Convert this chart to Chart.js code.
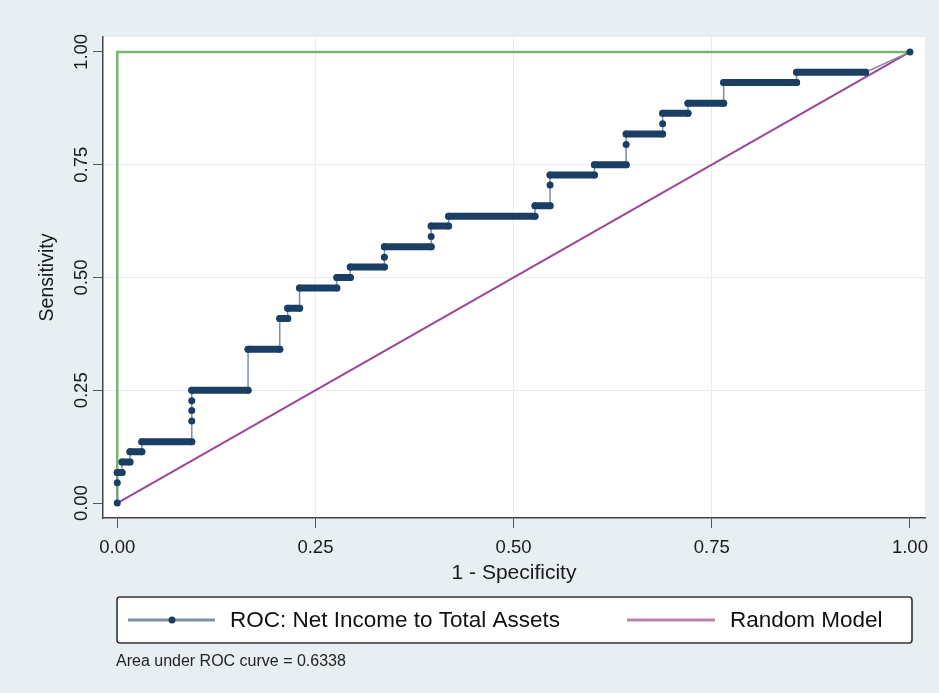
<!DOCTYPE html>
<html>
<head>
<meta charset="utf-8">
<title>ROC curve</title>
<script src="https://cdn.jsdelivr.net/npm/chart.js@4.4.1/dist/chart.umd.min.js"></script>
<style>
    html, body { margin: 0; padding: 0; background: #e8eff2; }
    #wrap { width: 939px; height: 693px; }
</style>
</head>
<body>
<div id="wrap"><canvas id="rocChart"></canvas></div>
<script>

// ROC points: 1 - specificity / sensitivity
var rocFpr = [0, 0, 0, 0.006, 0.006, 0.016, 0.016, 0.031, 0.031, 0.094, 0.094, 0.094, 0.094, 0.094,
    0.165, 0.165, 0.205, 0.205, 0.215, 0.215, 0.230, 0.230, 0.277, 0.277, 0.294, 0.294, 0.337, 0.337,
    0.337, 0.396, 0.396, 0.396, 0.418, 0.418, 0.527, 0.527, 0.546, 0.546, 0.546, 0.602, 0.602, 0.642,
    0.642, 0.642, 0.688, 0.688, 0.688, 0.720, 0.720, 0.765, 0.765, 0.857, 0.857, 0.944, 1];
var rocTpr = [0, 0.045, 0.068, 0.068, 0.091, 0.091, 0.114, 0.114, 0.136, 0.136, 0.182, 0.205, 0.227, 0.250,
    0.250, 0.341, 0.341, 0.409, 0.409, 0.432, 0.432, 0.477, 0.477, 0.500, 0.500, 0.523, 0.523, 0.545,
    0.568, 0.568, 0.591, 0.614, 0.614, 0.636, 0.636, 0.659, 0.659, 0.705, 0.727, 0.727, 0.750, 0.750,
    0.795, 0.818, 0.818, 0.841, 0.864, 0.864, 0.886, 0.886, 0.932, 0.932, 0.955, 0.955, 1];

var randomX = [0, 1];
var randomY = [0, 1];

var perfectX = [0, 0, 1];
var perfectY = [0, 1, 1];

var xTicks = [0, 0.25, 0.5, 0.75, 1];
var yTicks = [0, 0.25, 0.5, 0.75, 1];

var legendLabels = ['ROC: Net Income to Total Assets', 'Random Model'];
var aucNote = 'Area under ROC curve = 0.6338';

var navy = '#1b3f64';
var rocLine = '#7f8fa0';
var purple = '#9d4599';
var green = '#74b86b';

function toPoints(xs, ys) {
    var pts = [];
    for (var i = 0; i < xs.length; i++) {
        pts.push({ x: xs[i], y: ys[i] });
    }
    return pts;
}

function isFlat(ctx) {
    return ctx.p0.parsed.y === ctx.p1.parsed.y;
}

function endGrid(ctx) {
    var v = ctx.tick ? ctx.tick.value : null;
    return (v === 0 || v === 1) ? 'rgba(0,0,0,0)' : '#e9edf1';
}

var panelPlugin = {
    id: 'panel',
    beforeDraw: function (chart) {
        var ctx = chart.ctx;
        var a = chart.chartArea;
        ctx.save();
        ctx.fillStyle = '#e8eff2';
        ctx.fillRect(0, 0, chart.width, chart.height);
        ctx.fillStyle = '#ffffff';
        ctx.fillRect(a.left, a.top, a.right - a.left, a.bottom - a.top);
        ctx.restore();
    },
    afterDraw: function (chart) {
        var ctx = chart.ctx;
        ctx.save();

        // legend box
        ctx.beginPath();
        ctx.roundRect(117, 597, 795, 46, 3);
        ctx.fillStyle = '#ffffff';
        ctx.fill();
        ctx.lineWidth = 1.6;
        ctx.strokeStyle = '#333333';
        ctx.stroke();

        ctx.lineWidth = 3;
        ctx.strokeStyle = rocLine;
        ctx.beginPath();
        ctx.moveTo(128, 620);
        ctx.lineTo(215, 620);
        ctx.stroke();
        ctx.fillStyle = navy;
        ctx.beginPath();
        ctx.arc(172, 620, 3.5, 0, Math.PI * 2);
        ctx.fill();

        ctx.strokeStyle = '#b487b2';
        ctx.beginPath();
        ctx.moveTo(627, 620);
        ctx.lineTo(715, 620);
        ctx.stroke();

        ctx.fillStyle = '#111111';
        ctx.font = '22.5px "Liberation Sans", Arial, sans-serif';
        ctx.textBaseline = 'middle';
        ctx.fillText(legendLabels[0], 230, 621);
        ctx.fillText(legendLabels[1], 730, 621);

        ctx.font = '16px "Liberation Sans", Arial, sans-serif';
        ctx.fillStyle = '#222222';
        ctx.fillText(aucNote, 116, 662);
        ctx.restore();
    }
};

Chart.defaults.font.family = '"Liberation Sans", Arial, sans-serif';
Chart.defaults.color = '#1a1a1a';

var myChart = new Chart(document.getElementById('rocChart'), {
    type: 'scatter',
    data: {
        datasets: [
            {
                label: legendLabels[0],
                data: toPoints(rocFpr, rocTpr),
                showLine: true,
                borderColor: rocLine,
                borderWidth: 1.5,
                pointRadius: 3.5,
                pointBorderWidth: 0,
                pointBackgroundColor: navy,
                segment: {
                    borderWidth: function (ctx) { return isFlat(ctx) ? 7 : 1.5; },
                    borderColor: function (ctx) { return isFlat(ctx) ? navy : rocLine; },
                    borderCapStyle: function (ctx) { return isFlat(ctx) ? 'round' : 'butt'; }
                }
            },
            {
                label: legendLabels[1],
                data: toPoints(randomX, randomY),
                showLine: true,
                borderColor: purple,
                borderWidth: 2,
                pointRadius: 0
            },
            {
                label: 'Reference',
                data: toPoints(perfectX, perfectY),
                showLine: true,
                borderColor: green,
                borderWidth: 2.5,
                pointRadius: 0
            }
        ]
    },
    options: {
        responsive: true,
        maintainAspectRatio: false,
        animation: false,
        layout: { padding: { top: 37, right: 14, left: 0, bottom: 0 } },
        plugins: {
            legend: { display: false },
            tooltip: { enabled: false }
        },
        scales: {
            x: {
                type: 'linear',
                min: -0.018,
                max: 1.019,
                afterBuildTicks: function (scale) {
                    scale.ticks = xTicks.map(function (v) { return { value: v }; });
                },
                afterFit: function (scale) { scale.height = 175; },
                ticks: {
                    autoSkip: false,
                    maxRotation: 0,
                    padding: 9,
                    font: { size: 18.5 },
                    callback: function (v) { return v.toFixed(2); }
                },
                grid: { color: endGrid, tickColor: '#555555', tickLength: 10, lineWidth: 1 },
                border: { color: '#444444', width: 1.5 },
                title: {
                    display: true,
                    text: '1 - Specificity',
                    font: { size: 21 },
                    padding: { top: 0, bottom: 107 }
                }
            },
            y: {
                type: 'linear',
                min: -0.033,
                max: 1.033,
                afterBuildTicks: function (scale) {
                    scale.ticks = yTicks.map(function (v) { return { value: v }; });
                },
                afterFit: function (scale) { scale.width = 103; },
                ticks: {
                    autoSkip: false,
                    minRotation: 90,
                    maxRotation: 90,
                    crossAlign: 'center',
                    padding: -7,
                    font: { size: 18.5 },
                    callback: function (v) { return v.toFixed(2); }
                },
                grid: { color: endGrid, tickColor: '#555555', tickLength: 10, lineWidth: 1 },
                border: { color: '#444444', width: 1.5 },
                title: {
                    display: true,
                    text: 'Sensitivity',
                    font: { size: 19.5 },
                    padding: { top: 36, bottom: 0 }
                }
            }
        }
    },
    plugins: [panelPlugin]
});
</script>
</body>
</html>
